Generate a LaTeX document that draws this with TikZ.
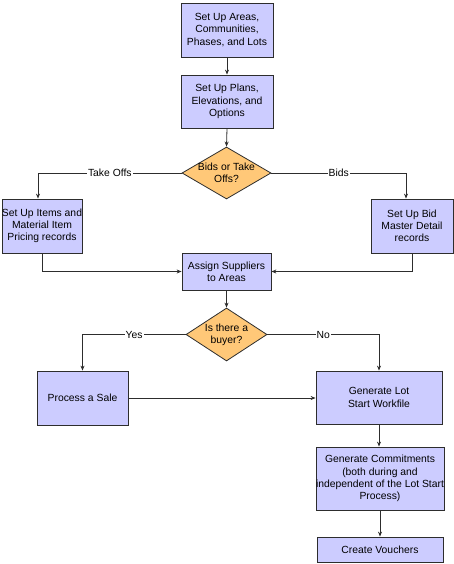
\documentclass[tikz,border=0pt]{standalone}
\usepackage{fontspec}
\setmainfont{Liberation Sans}
\usetikzlibrary{shapes.geometric,arrows.meta}
\definecolor{boxfill}{RGB}{204,204,255}
\definecolor{decfill}{RGB}{255,200,120}
\definecolor{edge}{RGB}{45,45,45}
\begin{document}
\begin{tikzpicture}[x=1bp,y=-1bp,
  box/.style={draw=edge, fill=boxfill, line width=0.8bp, align=center, inner sep=0pt,
    font=\fontsize{10.4}{12.3}\selectfont},
  dec/.style={draw=edge, fill=decfill, line width=0.8bp, diamond, inner sep=0pt},
  dectext/.style={align=center, inner sep=0pt, font=\fontsize{10.4}{12.3}\selectfont},
  lbl/.style={fill=white, inner sep=1pt, font=\fontsize{10.4}{12.3}\selectfont},
  conn/.style={draw=edge, line width=0.8bp, -{Stealth[length=5bp,width=4bp]}}]
\useasboundingbox (0,0) rectangle (454,564);
\node[box, minimum width=92bp, minimum height=54bp] (b1) at (227,30) {Set Up Areas,\\Communities,\\Phases, and Lots};
\node[box, minimum width=92bp, minimum height=53bp] (b2) at (227,101.5) {Set Up Plans,\\Elevations, and\\Options};
\node[dec, minimum width=89bp, minimum height=52bp] (d1) at (226.5,173) {};
\node[dectext] (d1t) at (d1.center) {Bids or Take\\Offs?};
\node[box, minimum width=80bp, minimum height=54bp] (lb) at (42,226) {Set Up Items and\\Material Item\\Pricing records};
\node[box, minimum width=82bp, minimum height=54bp] (rb) at (412,226) {Set Up Bid\\Master Detail\\records};
\node[box, minimum width=89bp, minimum height=37bp] (as) at (226.5,271.5) {Assign Suppliers\\to Areas};
\node[dec, minimum width=81bp, minimum height=53bp] (d2) at (226.5,334.5) {};
\node[dectext] (d2t) at (d2.center) {Is there a\\buyer?};
\node[box, minimum width=91bp, minimum height=54bp] (ps) at (82.5,398) {Process a Sale};
\node[box, minimum width=126bp, minimum height=53bp] (gl) at (379,397.5) {Generate Lot\\Start Workfile};
\node[box, minimum width=126bp, minimum height=63bp] (gc) at (380,478.5) {Generate Commitments\\(both during and\\independent of the Lot Start\\Process)};
\node[box, minimum width=126bp, minimum height=25bp] (cv) at (380,549.5) {Create Vouchers};

\draw[conn] (b1.south) -- (b2.south |- b2.north);
\draw[conn] (b2.south) -- (d1.north);
\draw[conn] (d1.west) -| ([xshift=-4bp]lb.north) node[lbl, pos=0.25] (l1) {Take Offs};
\draw[conn] (d1.east) -| ([xshift=-6bp]rb.north) node[lbl, pos=0.25] (l2) {Bids};
\draw[conn] (lb.south) |- (as.west);
\draw[conn] (rb.south) |- (as.east);
\draw[conn] (as.south) -- (d2.north);
\draw[conn] (d2.west) -| (ps.north) node[lbl, pos=0.25] (l3) {Yes};
\draw[conn] (d2.east) -| (gl.north) node[lbl, pos=0.25] (l4) {No};
\draw[conn] (ps.east) -- (ps.east -| gl.west);
\draw[conn] (gl.south) -- (gc.north -| gl.south);
\draw[conn] (gc.south) -- (cv.north);
\end{tikzpicture}
\end{document}
